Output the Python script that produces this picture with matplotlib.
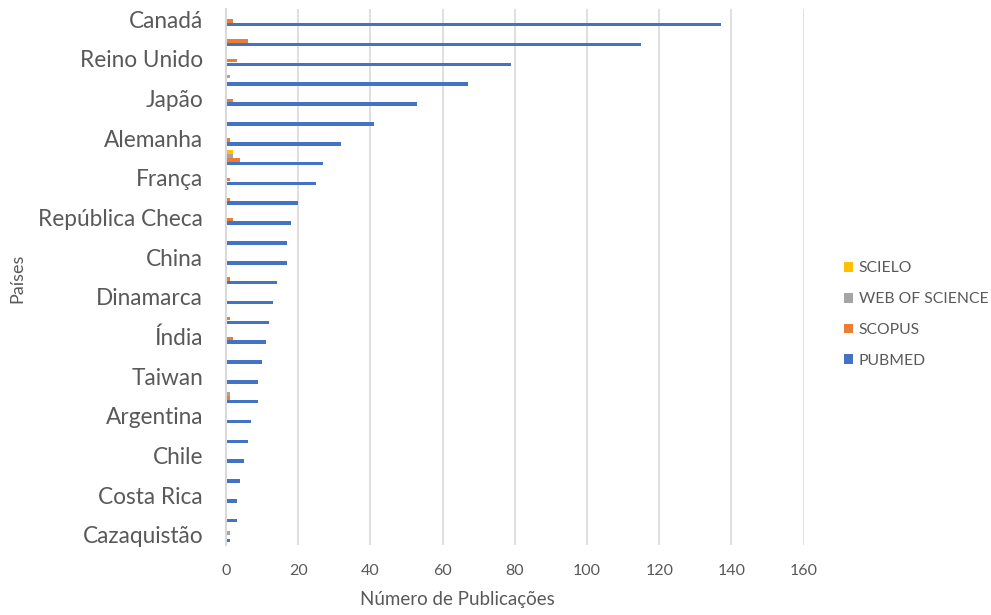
import numpy as np
import matplotlib.pyplot as plt

# Countries from top to bottom (only every other one gets a tick label)
paises = ["Canadá", "", "Reino Unido", "", "Japão", "", "Alemanha", "",
          "França", "", "República Checa", "", "China", "", "Dinamarca", "",
          "Índia", "", "Taiwan", "", "Argentina", "", "Chile", "",
          "Costa Rica", "", "Cazaquistão"]

pubmed = [137, 115, 79, 67, 53, 41, 32, 27, 25, 20, 18, 17, 17, 14, 13, 12,
          11, 10, 9, 9, 7, 6, 5, 4, 3, 3, 1]
scopus = [2, 6, 3, 0, 2, 0, 1, 4, 1, 1, 2, 0, 0, 1, 0, 1,
          2, 0, 0, 1, 0, 0, 0, 0, 0, 0, 0]
wos = [0, 0, 0, 1, 0, 0, 0, 2, 0, 0, 0, 0, 0, 0, 0, 0,
       0, 0, 0, 1, 0, 0, 0, 0, 0, 0, 1]
scielo = [0, 0, 0, 0, 0, 0, 0, 2, 0, 0, 0, 0, 0, 0, 0, 0,
          0, 0, 0, 0, 0, 0, 0, 0, 0, 0, 0]

series = [("SCIELO", scielo, "#FFC000", -0.29),
          ("WEB OF SCIENCE", wos, "#A5A5A5", -0.10),
          ("SCOPUS", scopus, "#ED7D31", 0.09),
          ("PUBMED", pubmed, "#4472C4", 0.28)]

fonte = "Lato"
cinza = "#595959"

fig = plt.figure(figsize=(9.91, 6.15), dpi=100)
ax = fig.add_axes([0.228, 0.114, 0.583, 0.871])

y = np.arange(len(paises))
for nome, vals, cor, off in series:
    ax.barh(y + off, vals, height=0.18, color=cor, label=nome, zorder=3)

ax.set_ylim(len(paises) - 0.5, -0.5)
ax.set_xlim(0, 160)
ax.set_xticks(np.arange(0, 161, 20))
ax.set_yticks(y[::2])
ax.set_yticklabels(paises[::2])

ax.grid(axis="x", color="#D9D9D9", linewidth=1.2, zorder=0)
for s in ["top", "right", "bottom"]:
    ax.spines[s].set_visible(False)
ax.spines["left"].set_color("#D9D9D9")
ax.spines["left"].set_linewidth(1.5)
ax.spines["left"].set_zorder(4)

ax.tick_params(axis="y", length=0, pad=16.5, labelsize=16.3, labelcolor=cinza)
ax.tick_params(axis="x", length=0, pad=14, labelsize=11.5, labelcolor=cinza)
for lab in ax.get_xticklabels() + ax.get_yticklabels():
    lab.set_family(fonte)

fig.text(0.462, 0.025, "Número de Publicações", fontsize=13.5, color=cinza,
         family=fonte, ha="center", va="center")
fig.text(0.018, 0.548, "Países", rotation=90, fontsize=13, color=cinza,
         family=fonte, ha="center", va="center")

ax.legend(loc="center left", bbox_to_anchor=(1.045, 0.43), frameon=False,
          prop={"family": fonte, "size": 11.3}, labelcolor=cinza,
          handlelength=0.6, handleheight=0.6, handletextpad=0.35,
          labelspacing=1.08)

fig.savefig("out.png", dpi=100, facecolor="white")
